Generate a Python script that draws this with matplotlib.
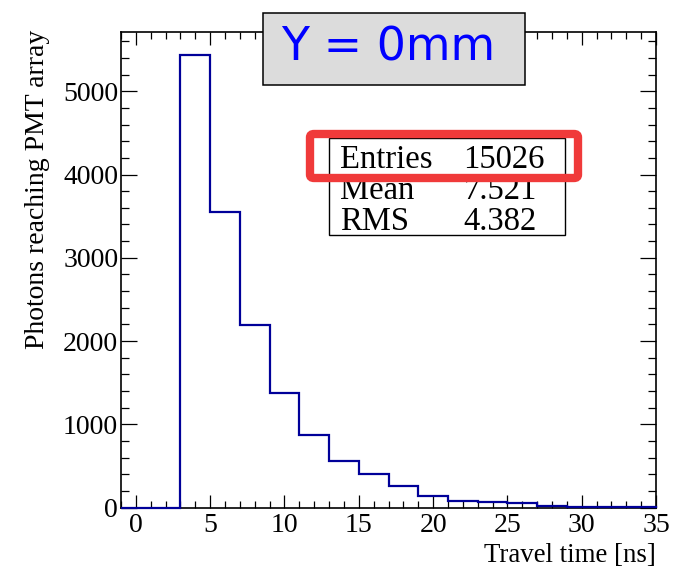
import numpy as np
import matplotlib
matplotlib.use("Agg")
import matplotlib.pyplot as plt
from matplotlib.patches import Rectangle, FancyBboxPatch
from matplotlib.ticker import MultipleLocator

# Histogram of photon travel times (2 ns bins from -1 to 35 ns)
bin_edges = [-1, 1, 3, 5, 7, 9, 11, 13, 15, 17, 19, 21, 23, 25, 27, 29, 31, 33, 35]
counts = [0, 0, 5440, 3550, 2195, 1378, 872, 560, 398, 258, 138, 84, 62, 52, 18, 12, 5, 4]

title_text = "Y = 0mm"
x_label = "Travel time [ns]"
y_label = "Photons reaching PMT array"
stat_mean = "7.521"
stat_rms = "4.382"

W, H = 675, 571
serif = ["Liberation Serif", "DejaVu Serif"]

fig = plt.figure(figsize=(W / 100, H / 100), dpi=100)
fig.patch.set_facecolor("white")

def fx(px):
    return px / W

def fy(py):
    return 1 - py / H

ax = fig.add_axes([fx(121), fy(507.5), fx(656) - fx(121), fy(32) - fy(507.5)])

ax.stairs(counts, bin_edges, baseline=0, fill=False, color="#000099",
          linewidth=1.6, zorder=3, clip_on=False)

ax.set_xlim(bin_edges[0], bin_edges[-1])
ax.set_ylim(0, max(counts) * 1.05)

ax.xaxis.set_major_locator(MultipleLocator(5))
ax.xaxis.set_minor_locator(MultipleLocator(1))
ax.yaxis.set_major_locator(MultipleLocator(1000))
ax.yaxis.set_minor_locator(MultipleLocator(200))

for s in ax.spines.values():
    s.set_linewidth(1.2)
    s.set_color("black")

ax.tick_params(axis="x", which="major", direction="in", length=9.7, width=0.9,
               top=True, bottom=True, pad=4, labelsize=20)
ax.tick_params(axis="x", which="minor", direction="in", length=5, width=0.9,
               top=True, bottom=True)
ax.tick_params(axis="y", which="major", direction="in", length=11.5, width=0.9,
               left=True, right=True, pad=2, labelsize=20)
ax.tick_params(axis="y", which="minor", direction="in", length=5.8, width=0.9,
               left=True, right=True)
for lab in ax.get_xticklabels() + ax.get_yticklabels():
    lab.set_family(serif)

fig.text(fx(656), fy(555), x_label, ha="right", va="center", fontsize=19.4, family=serif)
fig.text(fx(38), fy(30), y_label, ha="center", va="top", rotation=90, fontsize=20, family=serif)

# Title box
fig.patches.append(Rectangle((fx(263), fy(85)), fx(525) - fx(263), fy(13) - fy(85),
                             transform=fig.transFigure, facecolor="#dcdcdc",
                             edgecolor="black", linewidth=1.1, zorder=5))
fig.text(fx(388), fy(48), title_text, ha="center", va="center", color="#0000ff",
         fontsize=33, family="DejaVu Sans", zorder=6)

# Statistics box
fig.patches.append(Rectangle((fx(329), fy(235)), fx(565) - fx(329), fy(138) - fy(235),
                             transform=fig.transFigure, facecolor="white",
                             edgecolor="black", linewidth=1.0, zorder=5))
entries = str(int(sum(counts)))
rows = [("Entries", entries, 168, 545), ("Mean", stat_mean, 199, 537),
        ("RMS", stat_rms, 230, 537)]
for name, val, base, right in rows:
    fig.text(fx(340), fy(base), name, ha="left", va="baseline", fontsize=23.5,
             family=serif, zorder=6)
    fig.text(fx(right), fy(base), val, ha="right", va="baseline", fontsize=23.5,
             family=serif, zorder=6)

# Highlight around the entries row
fig.patches.append(FancyBboxPatch((fx(310), fy(178)), fx(578) - fx(310), fy(134) - fy(178),
                                  boxstyle="round,pad=0,rounding_size=0.006",
                                  transform=fig.transFigure, facecolor="none",
                                  edgecolor="#f03a3a", linewidth=6, zorder=7))

fig.savefig("out.png", dpi=100)
